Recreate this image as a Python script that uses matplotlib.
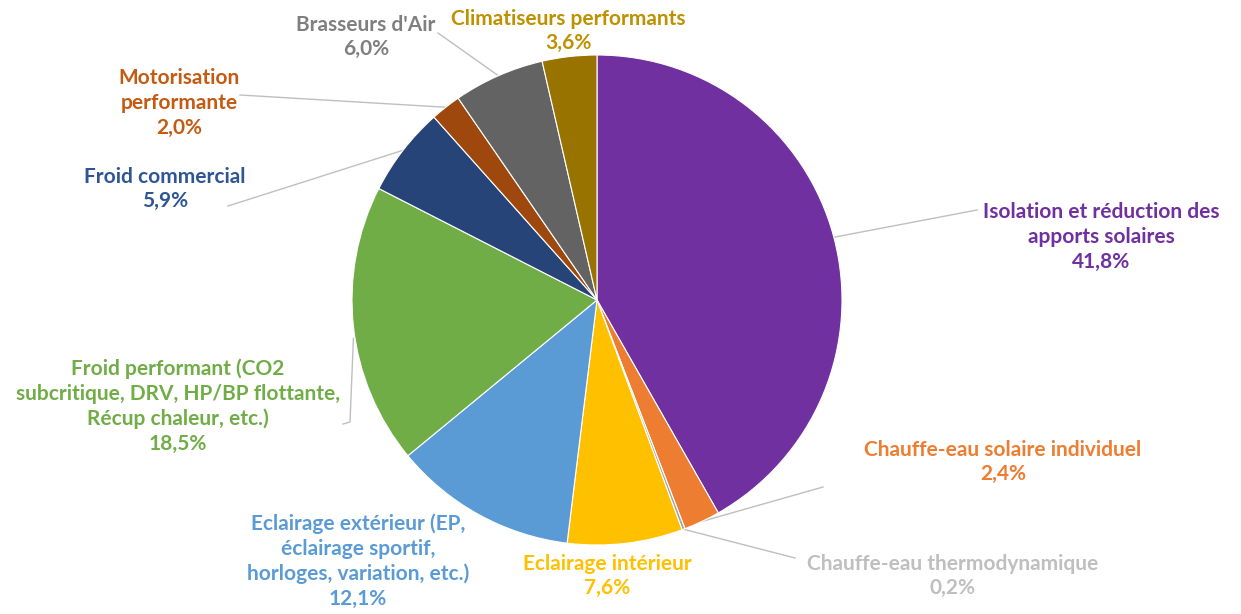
import matplotlib.pyplot as plt
import numpy as np

# slices, clockwise from 12 o'clock
labels = ['Isolation et réduction des\napports solaires',
          'Chauffe-eau solaire individuel',
          'Chauffe-eau thermodynamique',
          'Eclairage intérieur',
          'Eclairage extérieur (EP,\néclairage sportif,\nhorloges, variation, etc.)',
          'Froid performant (CO2\nsubcritique, DRV, HP/BP flottante,\nRécup chaleur, etc.)',
          'Froid commercial',
          'Motorisation\nperformante',
          "Brasseurs d'Air",
          'Climatiseurs performants']
shares = [41.8, 2.4, 0.2, 7.6, 12.1, 18.5, 5.9, 2.0, 6.0, 3.6]
slice_colors = ['#7030A0', '#ED7D31', '#A5A5A5', '#FFC000', '#5B9BD5',
                '#70AD47', '#264478', '#9E480E', '#636363', '#997300']
text_colors = ['#7030A0', '#ED7D31', '#BFBFBF', '#FFC000', '#5B9BD5',
               '#70AD47', '#2F5597', '#C55A11', '#7F7F7F', '#BF9000']

W, H = 1241, 614
cx, cy, R = 597, 314, 245

# label block centres (pixels from top-left) and leader end points (None = no leader)
label_pos = [(1101, 237), (1003, 462), (953, 576), (607, 576), (358, 561),
             (178, 406), (165, 189), (179, 103), (366, 37), (568, 31)]
leader_end = [(977, 210), (823, 487), (795, 558), None, (481, 510),
              (343, 424), (228, 206), (240, 95), (438, 33), None]

plt.rcParams['font.family'] = ['Lato', 'DejaVu Sans']

fig = plt.figure(figsize=(W / 100, H / 100), dpi=100)
ax = fig.add_axes([0, 0, 1, 1])

wedges, _ = ax.pie(shares, colors=slice_colors, startangle=90, counterclock=False,
                   center=(cx, cy), radius=R, frame=True,
                   wedgeprops=dict(edgecolor='white', linewidth=0.8))
ax.set_xlim(0, W)
ax.set_ylim(0, H)
ax.set_aspect('equal')
ax.axis('off')

for i, w in enumerate(wedges):
    tx, ty = label_pos[i]
    txt = labels[i] + '\n' + f'{shares[i]:.1f}'.replace('.', ',') + '%'
    ax.text(tx, H - ty, txt, ha='center', va='center', color=text_colors[i],
            fontsize=15, fontweight='bold', linespacing=1.3)
    if leader_end[i] is None:
        continue
    mid = np.deg2rad((w.theta1 + w.theta2) / 2)
    sx, sy = cx + R * np.cos(mid), cy + R * np.sin(mid)
    ex, ey = leader_end[i]
    if i == 5:
        xs = [sx, 350, ex]
        ys = [sy - 12, H - ey + 2, H - ey]
    else:
        xs = [sx, ex]
        ys = [sy, H - ey]
    ax.plot(xs, ys, color='#BFBFBF', lw=1.0, zorder=0)

fig.savefig('out.png', dpi=100)
